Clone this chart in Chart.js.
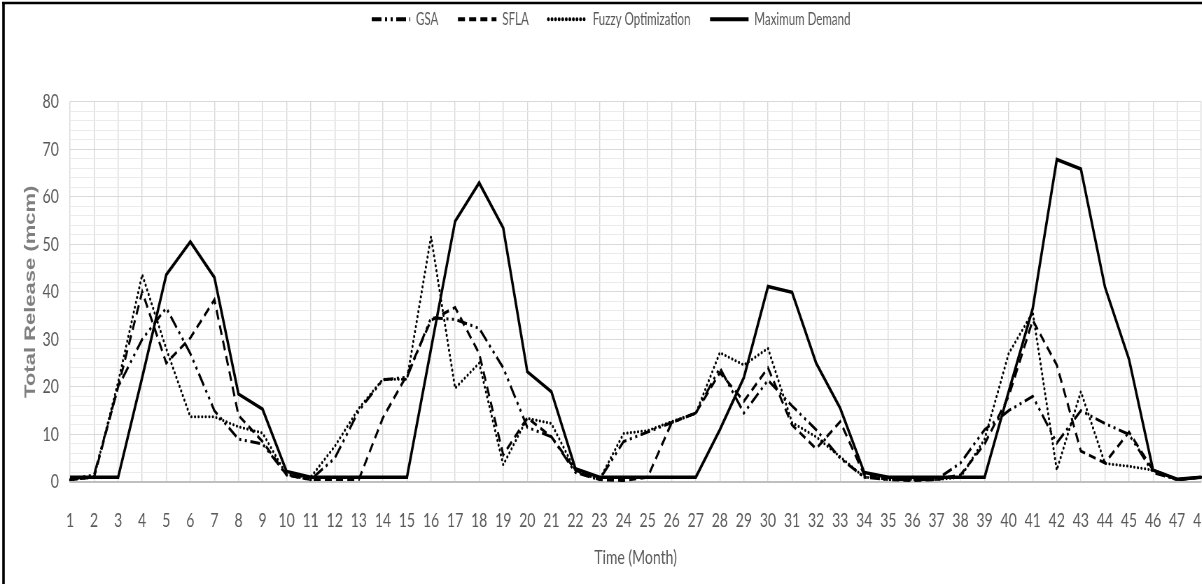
<!DOCTYPE html>
<html>
<head>
<meta charset="utf-8">
<script src="https://cdn.jsdelivr.net/npm/chart.js@4.4.0/dist/chart.umd.min.js"></script>
<style>
  html, body { margin: 0; padding: 0; background: #fff; overflow: hidden; }
  /* the original picture is squeezed sideways, so draw wide and scale it down */
  #wrap { width: 1760px; height: 584px; transform: scaleX(0.7); transform-origin: 0 0; }
</style>
</head>
<body>
<div id="wrap"><canvas id="releaseChart"></canvas></div>
<script>
// Time axis (months)
const months = ['1','2','3','4','5','6','7','8','9','10','11','12','13','14','15','16',
  '17','18','19','20','21','22','23','24','25','26','27','28','29','30','31','32',
  '33','34','35','36','37','38','39','40','41','42','43','44','45','46','47','48'];

// Total release (mcm)
const gsa = [0.5, 1.5, 20, 30, 36.6, 27, 15, 9, 8, 1.5,
  0.5, 5, 15, 21.5, 22, 34.5, 34.2, 32.3, 24, 11.5,
  9.5, 2, 0.5, 8.5, 10.5, 12.5, 14.5, 24, 14.5, 21.4,
  16, 11, 5, 1, 0.5, 0.5, 0.5, 4, 11, 15,
  18, 8.2, 15, 12.3, 10, 2, 0.5, 1];

const sfla = [0.5, 1, 20, 40, 25, 30.3, 38.3, 14, 8.5, 1.5,
  0.5, 0.5, 0.5, 13.5, 22.5, 34, 36.7, 27, 5.7, 13.5,
  9.5, 2.5, 0.5, 0.3, 1, 12.5, 14.5, 23, 17, 24,
  12, 7, 12.7, 1.5, 0.5, 0.3, 0.5, 1.5, 8, 18,
  34, 24.6, 6.5, 4, 10.5, 2.5, 0.5, 1];

const fuzzy = [0.5, 1, 21, 43.6, 28, 13.7, 13.7, 11.6, 10.3, 1.5,
  1, 7.5, 15.5, 21.6, 21.6, 51.6, 19.7, 25, 3.6, 13.4,
  12.3, 2.4, 0.5, 10.2, 10.8, 12.7, 14.4, 27.2, 24.6, 28.1,
  12.5, 9.5, 5.3, 1, 0.8, 0.5, 0.5, 1, 9, 27,
  35.7, 2.5, 19, 3.9, 3.3, 2.5, 0.5, 1];

const maxDemand = [1, 1, 1, 22, 43.6, 50.5, 43, 18.5, 15.3, 2.2,
  1, 1, 1, 1, 1, 28, 54.8, 62.9, 53.4, 23.2,
  19, 2.8, 1, 1, 1, 1, 1, 11, 22, 41.1,
  39.9, 25, 15.5, 2, 1, 1, 1, 1, 1, 19,
  36.5, 67.8, 65.8, 41, 25.8, 2.5, 0.6, 1];

const FONT = "Lato, 'Liberation Sans', sans-serif";
const GREY = '#595959';

// black frame round the figure, and legend pulled up near the frame
const frame = {
  id: 'frame',
  beforeDraw(chart) {
    const ctx = chart.ctx;
    ctx.save();
    ctx.fillStyle = '#fff';
    ctx.fillRect(0, 0, chart.width, chart.height);
    ctx.strokeStyle = '#000';
    ctx.lineWidth = 3.6;
    ctx.beginPath();
    ctx.moveTo(5, 2);
    ctx.lineTo(5, chart.height + 5);
    ctx.stroke();
    ctx.lineWidth = 2.5;
    ctx.beginPath();
    ctx.moveTo(3, 3);
    ctx.lineTo(chart.width + 5, 3);
    ctx.stroke();
    ctx.restore();
    if (chart.legend) chart.legend.top = -17;
  }
};

new Chart(document.getElementById('releaseChart'), {
  type: 'line',
  data: {
    labels: months,
    datasets: [
      { label: 'GSA', data: gsa, borderColor: '#000', backgroundColor: '#000',
        borderWidth: 3, borderDash: [14, 5, 3, 5, 3, 5] },
      { label: 'SFLA', data: sfla, borderColor: '#000', backgroundColor: '#000',
        borderWidth: 3, borderDash: [10, 6] },
      { label: 'Fuzzy Optimization', data: fuzzy, borderColor: '#000', backgroundColor: '#000',
        borderWidth: 3, borderDash: [0.1, 5], borderCapStyle: 'round' },
      { label: 'Maximum Demand', data: maxDemand, borderColor: '#000', backgroundColor: '#000',
        borderWidth: 3.5 }
    ]
  },
  options: {
    responsive: true,
    maintainAspectRatio: false,
    animation: false,
    layout: { padding: { top: 9, left: 30, right: 44, bottom: 0 } },
    elements: { point: { radius: 0 }, line: { tension: 0 } },
    plugins: {
      legend: {
        position: 'top',
        labels: {
          usePointStyle: true, pointStyle: 'line', pointStyleWidth: 55,
          padding: 28, color: GREY, font: { family: FONT, size: 16.5 },
          // keep each series' dash pattern in the legend sample
          generateLabels(chart) {
            return chart.data.datasets.map((ds, i) => ({
              text: ds.label,
              datasetIndex: i,
              hidden: false,
              fillStyle: '#000',
              strokeStyle: '#000',
              fontColor: GREY,
              lineWidth: 4,
              lineDash: ds.borderDash || [],
              lineCap: ds.borderCapStyle || 'butt',
              pointStyle: 'line'
            }));
          }
        }
      },
      // empty spacer between legend and plot
      title: { display: true, text: ' ', weight: 500, font: { size: 10 },
        padding: { top: 12, bottom: 14 } },
      tooltip: { enabled: false }
    },
    scales: {
      x: {
        offset: false,
        grid: { color: '#d9d9d9', lineWidth: 1.4, drawTicks: false, offset: false },
        border: { color: '#bfbfbf', width: 1.5 },
        ticks: { autoSkip: false, maxRotation: 0, padding: 27, color: GREY,
          font: { family: FONT, size: 20 } },
        title: { display: true, text: 'Time (Month)', color: GREY,
          font: { family: FONT, size: 20 }, padding: { top: 4, bottom: 14 } },
        afterFit(scale) { scale.height = 102; }
      },
      y: {
        min: 0,
        max: 80,
        grid: {
          drawTicks: false,
          lineWidth: 1,
          color: ctx => ctx.tick.value === 0 ? '#bfbfbf' : (ctx.tick.value % 10 === 0 ? '#d9d9d9' : '#ebebeb')
        },
        border: { display: false },
        ticks: { stepSize: 2, autoSkip: false, padding: 16, color: GREY,
          font: { family: FONT, size: 20 },
          callback: v => v % 10 === 0 ? v : '' },
        title: { display: true, text: 'Total Release (mcm)', color: '#7f7f7f',
          font: { family: "'Liberation Sans', Arial, sans-serif", size: 22, weight: 'bold' },
          padding: { top: 1, bottom: 0 } },
        afterFit(scale) { scale.width = 70; }
      }
    }
  },
  plugins: [frame]
});
</script>
</body>
</html>
